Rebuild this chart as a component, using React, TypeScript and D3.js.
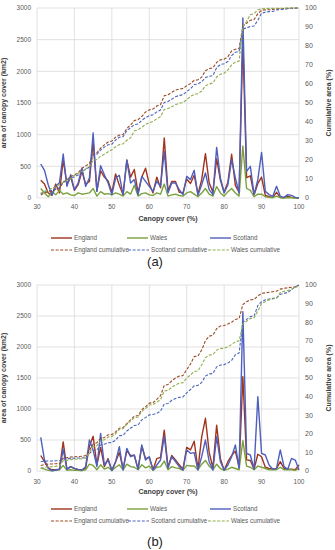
import * as d3 from 'd3';
import React from 'react';

// canopy cover classes (%)
const canopy = [
  31, 32, 33, 34, 35, 36, 37, 38, 39, 40, 41, 42, 43, 44, 45, 46, 47, 48, 49, 50,
  51, 52, 53, 54, 55, 56, 57, 58, 59, 60, 61, 62, 63, 64, 65, 66, 67, 68, 69, 70,
  71, 72, 73, 74, 75, 76, 77, 78, 79, 80, 81, 82, 83, 84, 85, 86, 87, 88, 89, 90,
  91, 92, 93, 94, 95, 96, 97, 98, 99, 100,
];
const xTicks = [30, 40, 50, 60, 70, 80, 90, 100];
const areaTicks = [0, 500, 1000, 1500, 2000, 2500, 3000];
const cumTicks = [0, 10, 20, 30, 40, 50, 60, 70, 80, 90, 100];

// panel (a)
const englandA = [
  280, 220, 80, 40, 220, 80, 600, 220, 330, 120, 210, 420, 220, 260, 900, 110, 430, 330, 270, 90,
  380, 200, 50, 600, 330, 450, 80, 330, 470, 220, 80, 330, 160, 950, 110, 260, 260, 90, 80, 300,
  230, 360, 60, 290, 700, 240, 90, 620, 280, 90, 250, 690, 200, 90, 2500, 320, 350, 50, 230, 330,
  40, 20, 10, 90, 10, 5, 30, 10, 5, 0,
];
const walesA = [
  150, 80, 20, 100, 50, 120, 60, 80, 50, 40, 80, 60, 70, 80, 150, 30, 100, 60, 70, 50,
  80, 60, 30, 100, 60, 200, 30, 70, 80, 50, 40, 80, 60, 220, 30, 50, 60, 40, 30, 80,
  100, 60, 20, 80, 150, 60, 30, 180, 80, 30, 100, 150, 80, 30, 820, 150, 120, 20, 60, 60,
  20, 10, 5, 30, 5, 0, 5, 5, 0, 0,
];
const scotlandA = [
  537, 437, 210, 42, 184, 240, 695, 184, 368, 132, 237, 474, 184, 316, 1026, 105, 510, 368, 237, 53,
  316, 358, 53, 595, 237, 290, 53, 342, 263, 184, 105, 263, 184, 737, 79, 237, 237, 132, 53, 342,
  290, 437, 42, 210, 395, 132, 53, 800, 316, 79, 210, 605, 316, 79, 2842, 421, 500, 53, 290, 721,
  105, 53, 26, 184, 26, 10, 53, 42, 10, 0,
];
const englandCumA = [
  1.5, 2.7, 3.2, 3.4, 4.6, 5.1, 8.4, 9.6, 11.4, 12.1, 13.3, 15.6, 16.8, 18.2, 23.2, 23.8, 26.2, 28, 29.5, 30,
  32, 33.1, 33.4, 36.6, 38.4, 40.8, 41.2, 42.9, 45.3, 46.4, 46.8, 48.4, 49.2, 53.8, 54.3, 55.6, 56.8, 57.3, 57.7, 59.1,
  60.2, 61.9, 62.2, 63.6, 67, 68.1, 68.5, 71.4, 72.7, 73.1, 74.3, 77.4, 78.3, 78.7, 90.5, 92, 93.6, 93.9, 97, 98.8,
  99, 99.1, 99.2, 99.6, 99.7, 99.7, 99.8, 99.9, 99.95, 100,
];
const scotlandCumA = [
  2, 3.4, 3.9, 4, 4.7, 5.4, 8.4, 9, 10.6, 11.1, 12.1, 14.2, 15, 16.3, 22.5, 23, 25.2, 26.8, 28, 28.3,
  30.5, 32, 32.3, 35.5, 37, 38.6, 38.9, 40.9, 42.3, 43.3, 43.8, 45.3, 46.3, 50.3, 50.8, 52, 53.3, 54, 54.3, 56,
  57.5, 59.7, 60, 61.2, 63.4, 64.1, 64.4, 68.6, 70.3, 70.7, 71.8, 75, 76.7, 77.1, 89, 89.5, 90.3, 90.5, 93.5, 97.3,
  97.8, 98.1, 98.2, 99, 99.2, 99.3, 99.6, 99.8, 99.9, 100,
];
const walesCumA = [
  2.5, 3.6, 4, 5.2, 5.8, 7.3, 8.1, 9.4, 10.2, 11.8, 13, 14, 15.3, 16.6, 19.8, 20.3, 22, 23, 24.3, 25.4,
  27, 28.1, 28.5, 30.4, 31.6, 35.3, 35.9, 37.2, 38.7, 39.6, 40.3, 41.7, 42.8, 46.6, 47.1, 48, 49.1, 49.8, 50.3, 51.7,
  53.5, 54.5, 54.9, 56.3, 59, 60, 60.5, 63.7, 65.1, 65.6, 67.4, 70.1, 71.5, 72.1, 90.3, 92.9, 96.5, 97, 99, 99.6,
  99.7, 99.8, 99.8, 99.9, 99.9, 99.9, 100, 100, 100, 100,
];

// panel (b)
const englandB = [
  250, 150, 50, 20, 20, 30, 470, 30, 70, 40, 20, 10, 50, 400, 560, 100, 380, 70, 200, 10,
  150, 300, 30, 330, 250, 250, 30, 400, 200, 220, 20, 200, 220, 660, 60, 250, 180, 100, 30, 380,
  340, 480, 30, 550, 850, 300, 50, 740, 200, 10, 150, 250, 320, 60, 1520, 180, 170, 30, 270, 230,
  60, 40, 30, 40, 150, 40, 30, 30, 20, 100,
];
const walesB = [
  50, 30, 10, 5, 10, 20, 90, 10, 20, 10, 10, 5, 20, 110, 90, 20, 100, 30, 60, 10,
  60, 100, 20, 110, 70, 60, 20, 100, 50, 80, 10, 60, 70, 160, 20, 70, 50, 40, 10, 90,
  80, 80, 20, 110, 170, 80, 20, 110, 40, 10, 30, 60, 40, 20, 490, 80, 60, 20, 80, 60,
  40, 20, 20, 20, 60, 20, 20, 20, 10, 40,
];
const scotlandB = [
  543, 177, 43, 5, 16, 27, 350, 27, 70, 43, 27, 16, 70, 500, 340, 70, 607, 97, 177, 5,
  150, 392, 16, 365, 231, 258, 27, 420, 177, 231, 16, 97, 177, 560, 43, 231, 150, 70, 16, 340,
  285, 296, 16, 231, 500, 150, 16, 554, 150, 16, 97, 231, 420, 43, 2570, 285, 258, 27, 1200, 285,
  258, 97, 27, 43, 340, 70, 27, 204, 177, 16,
];
const englandCumB = [
  3, 3.5, 3.7, 3.8, 3.9, 4, 7, 7.2, 7.5, 7.7, 7.8, 7.9, 8.3, 11, 14.5, 15.2, 17.5, 18, 19.5, 19.6,
  21, 23, 23.3, 25.5, 27.5, 29.5, 29.8, 33, 34.5, 36.5, 36.7, 38.5, 40.5, 46, 46.5, 48.5, 50, 51, 51.3, 54.5,
  57.5, 61.5, 61.8, 65, 70, 72.5, 73, 76.5, 78, 78.2, 79, 80, 81.5, 82, 89.5, 91, 92, 92.3, 94, 95.5,
  95.8, 96.1, 96.4, 96.7, 97.8, 98.2, 98.5, 98.8, 99, 100,
];
const scotlandCumB = [
  5, 5.3, 5.4, 5.4, 5.5, 5.5, 6.5, 6.6, 6.8, 6.9, 7, 7, 7.3, 9.5, 11, 11.3, 14, 14.4, 15.2, 15.3,
  16.5, 19, 19.2, 21.5, 23, 24.5, 24.7, 27.5, 28.7, 30.2, 30.4, 31, 32.2, 36, 36.3, 38, 39, 39.6, 39.8, 42,
  43.8, 45.8, 46, 47.6, 51, 52.2, 52.4, 56, 57, 57.2, 58, 59.5, 62.5, 63.5, 80, 81.5, 83, 83.3, 89, 91,
  92, 92.5, 92.8, 93, 95, 95.5, 96, 97.5, 99, 100,
];
const walesCumB = [
  1.5, 2, 2.2, 2.3, 2.5, 2.8, 5.5, 5.7, 6.1, 6.3, 6.5, 6.6, 7, 10, 13, 13.6, 16.2, 16.8, 18.3, 18.5,
  20, 22.4, 22.8, 25, 27, 28.6, 29, 32, 33.5, 35.5, 35.7, 37, 38.4, 43, 43.4, 45, 46.3, 47.2, 47.5, 50,
  51.6, 53.5, 53.8, 57, 61, 62.3, 62.6, 65, 65.8, 66, 66.8, 68, 69.5, 70, 79, 80.5, 82, 82.4, 86, 90,
  91, 92, 92.5, 93, 96, 96.6, 97, 97.8, 98.5, 100,
];

const englandColor = '#a0341c';
const walesColor = '#7aa23c';
const scotlandColor = '#4e5fbd';
const englandCumColor = '#9b4a22';
const scotlandCumColor = '#4d66bb';
const walesCumColor = '#8fae4c';

const font = '"Liberation Sans", Arial, sans-serif';
const grey = '#595959';

type PanelProps = {
  top: number;
  bottom: number;
  xLabelY: number;
  xTitleY: number;
  legendY: number;
  tag: string;
  tagY: number;
  england: number[];
  wales: number[];
  scotland: number[];
  englandCum: number[];
  scotlandCum: number[];
  walesCum: number[];
};

function Panel(p: PanelProps) {
  const left = 37;
  const right = 299;
  const x = d3.scaleLinear().domain([30, 100]).range([left, right]);
  const y = d3.scaleLinear().domain([0, 3000]).range([p.bottom, p.top]);
  const y2 = d3.scaleLinear().domain([0, 100]).range([p.bottom, p.top]);

  const areaLine = d3
    .line<number>()
    .x((d, i) => x(canopy[i]))
    .y((d) => y(d));
  const cumLine = d3
    .line<number>()
    .x((d, i) => x(canopy[i]))
    .y((d) => y2(d));

  const mid = (p.top + p.bottom) / 2;

  const solid = [
    { name: 'England', data: p.england, color: englandColor },
    { name: 'Wales', data: p.wales, color: walesColor },
    { name: 'Scotland', data: p.scotland, color: scotlandColor },
  ];
  const dashed = [
    { name: 'England cumulative', data: p.englandCum, color: englandCumColor },
    { name: 'Scotland cumulative', data: p.scotlandCum, color: scotlandCumColor },
    { name: 'Wales cumulative', data: p.walesCum, color: walesCumColor },
  ];
  const legendRow1 = [51, 127, 210];
  const legendRow2 = [51, 128, 208];

  return (
    <g>
      {/* grid */}
      {areaTicks.map((t) => (
        <line key={'h' + t} x1={left} x2={right} y1={y(t)} y2={y(t)} stroke="#d9d9d9" strokeWidth={0.8} />
      ))}
      {xTicks.map((t) => (
        <line key={'v' + t} x1={x(t)} x2={x(t)} y1={p.top} y2={p.bottom} stroke="#d9d9d9" strokeWidth={0.8} />
      ))}

      {/* left axis */}
      {areaTicks.map((t) => (
        <text key={'l' + t} x={left - 6} y={y(t)} dy="0.35em" textAnchor="end" fontSize={6.5} fill={grey} fontFamily={font}>
          {t}
        </text>
      ))}
      {/* right axis */}
      {cumTicks.map((t) => (
        <text key={'r' + t} x={right + 6} y={y2(t)} dy="0.35em" fontSize={7} fill={grey} fontFamily={font}>
          {t}
        </text>
      ))}
      {/* x axis */}
      {xTicks.map((t) => (
        <text key={'x' + t} x={x(t)} y={p.xLabelY} dy="0.35em" textAnchor="middle" fontSize={6.5} fill={grey} fontFamily={font}>
          {t}
        </text>
      ))}
      <text x={168} y={p.xTitleY} dy="0.35em" textAnchor="middle" fontSize={7} fontWeight="bold" fill="#404040" fontFamily={font}>
        Canopy cover (%)
      </text>
      <text transform={`translate(6,${mid}) rotate(-90)`} textAnchor="middle" fontSize={7} fontWeight="bold" fill="#404040" fontFamily={font}>
        area of canopy cover (km2)
      </text>
      <text transform={`translate(331,${mid}) rotate(-90)`} textAnchor="middle" fontSize={7} fontWeight="bold" fill="#404040" fontFamily={font}>
        Cumulative area (%)
      </text>

      {/* series */}
      {solid.map((s) => (
        <path key={s.name} d={areaLine(s.data) || ''} fill="none" stroke={s.color} strokeWidth={1.4} strokeLinejoin="round" />
      ))}
      {dashed.map((s) => (
        <path key={s.name} d={cumLine(s.data) || ''} fill="none" stroke={s.color} strokeWidth={1.1} strokeDasharray="3,1.6" />
      ))}

      {/* legend */}
      {solid.map((s, i) => (
        <g key={'lg' + s.name}>
          <line x1={legendRow1[i]} x2={legendRow1[i] + 21} y1={p.legendY} y2={p.legendY} stroke={s.color} strokeWidth={1.4} />
          <text x={legendRow1[i] + 23} y={p.legendY} dy="0.35em" fontSize={6.3} fill={grey} fontFamily={font}>
            {s.name}
          </text>
        </g>
      ))}
      {dashed.map((s, i) => (
        <g key={'ld' + s.name}>
          <line x1={legendRow2[i]} x2={legendRow2[i] + 21} y1={p.legendY + 12} y2={p.legendY + 12} stroke={s.color} strokeWidth={1.1} strokeDasharray="3,1.6" />
          <text x={legendRow2[i] + 23} y={p.legendY + 12} dy="0.35em" fontSize={6.3} fill={grey} fontFamily={font}>
            {s.name}
          </text>
        </g>
      ))}

      <text x={155} y={p.tagY} textAnchor="middle" fontSize={13} fill="#222" fontFamily={font}>
        {p.tag}
      </text>
    </g>
  );
}

export default function App() {
  return (
    <svg width={335} height={550} style={{ position: 'absolute', left: 0, top: 0, background: '#fff' }}>
      <Panel
        top={8}
        bottom={198}
        xLabelY={207}
        xTitleY={219}
        legendY={238}
        tag="(a)"
        tagY={266}
        england={englandA}
        wales={walesA}
        scotland={scotlandA}
        englandCum={englandCumA}
        scotlandCum={scotlandCumA}
        walesCum={walesCumA}
      />
      <Panel
        top={285}
        bottom={471}
        xLabelY={482}
        xTitleY={492}
        legendY={509}
        tag="(b)"
        tagY={546}
        england={englandB}
        wales={walesB}
        scotland={scotlandB}
        englandCum={englandCumB}
        scotlandCum={scotlandCumB}
        walesCum={walesCumB}
      />
    </svg>
  );
}
